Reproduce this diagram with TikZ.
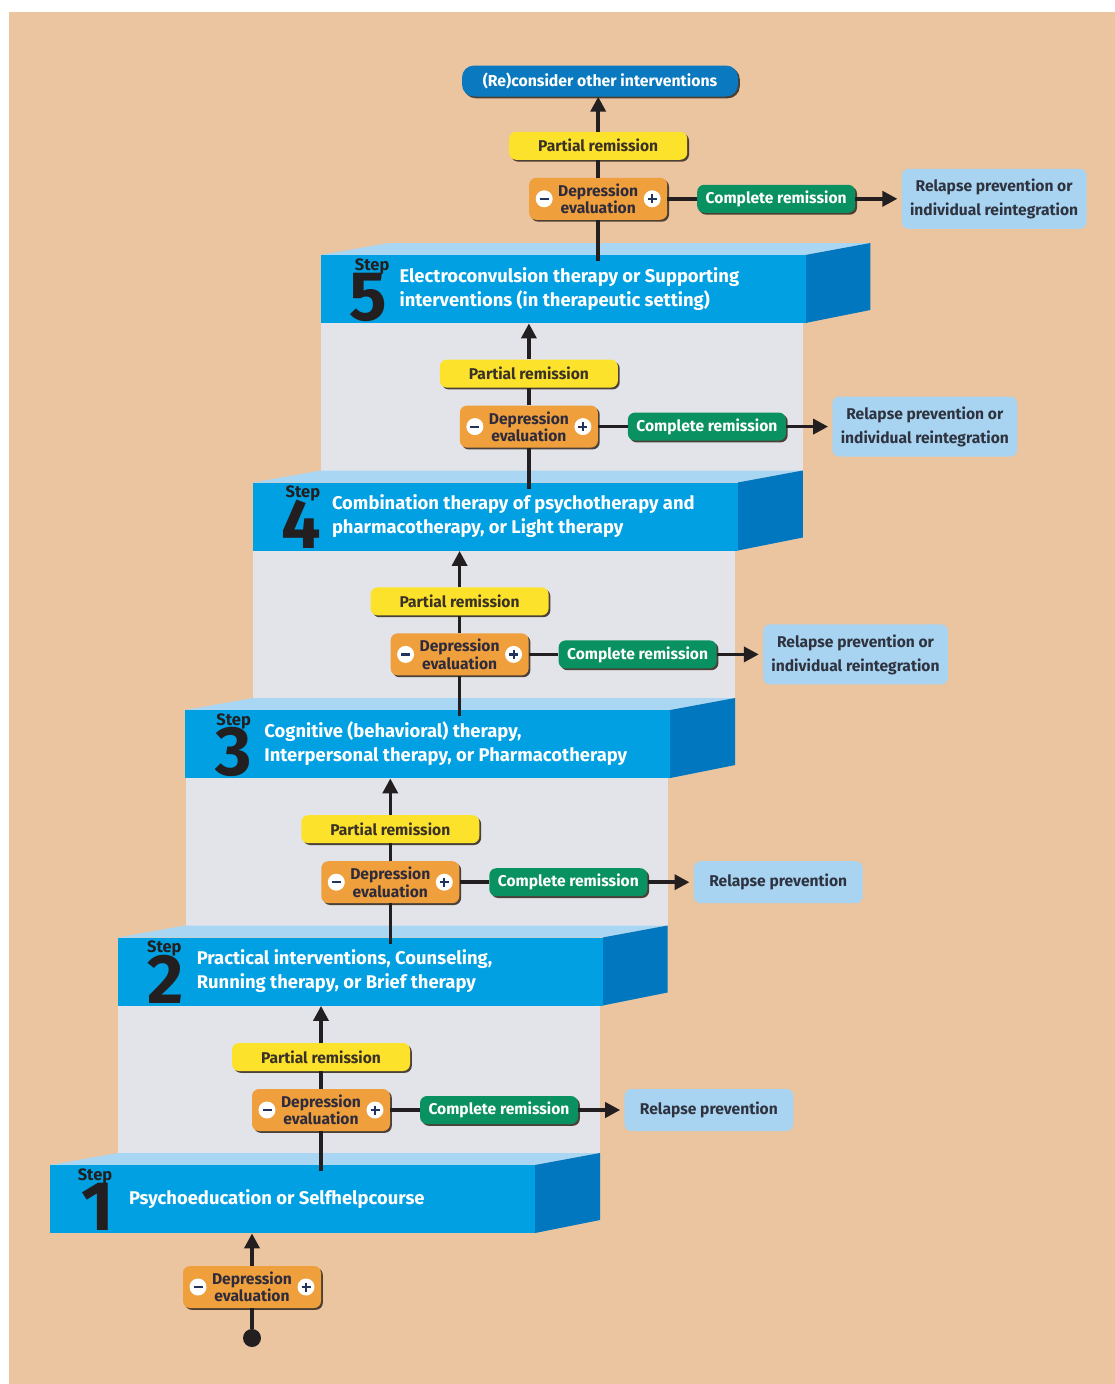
\documentclass[tikz,border=0pt]{standalone}
\usepackage{fontspec}
\setmainfont{Fira Sans}
\usetikzlibrary{arrows.meta,shadows,calc}
\definecolor{peach}{HTML}{EBC4A0}
\definecolor{panel}{HTML}{E3E4E9}
\definecolor{frontc}{HTML}{00A0E2}
\definecolor{sidec}{HTML}{0077BF}
\definecolor{topc}{HTML}{A9D6F3}
\definecolor{yel}{HTML}{FDE22B}
\definecolor{ora}{HTML}{EF9F3B}
\definecolor{grn}{HTML}{0A9161}
\definecolor{rel}{HTML}{A8D4F1}
\definecolor{topbox}{HTML}{0A79BF}
\definecolor{ink}{HTML}{231F20}
\definecolor{shad}{HTML}{3B3026}
\definecolor{ytext}{HTML}{3A3226}
\definecolor{otext}{HTML}{2E2B3C}
\definecolor{rtext}{HTML}{2F3340}
\definecolor{signc}{HTML}{22345E}
\begin{document}
\begin{tikzpicture}[x=1pt,y=-1pt,
 conn/.style={draw=ink,line width=3.6pt},
 arr/.style={conn,-{Triangle[length=15pt,width=15pt]}},
 sbox/.style={rounded corners=7pt,inner sep=0pt,align=center,drop shadow={shadow xshift=1.8pt,shadow yshift=-1.8pt,fill=shad,opacity=0.9}},
 partialbox/.style={sbox,fill=yel,text=ytext,minimum width=178pt,minimum height=28pt,font=\bfseries\fontsize{15.6}{17}\selectfont},
 evalbox/.style={sbox,fill=ora,text=otext,minimum width=138pt,minimum height=42pt,font=\bfseries\fontsize{15.6}{17.5}\selectfont},
 completebox/.style={sbox,fill=grn,text=white,minimum width=158pt,minimum height=28pt,font=\bfseries\fontsize{15.6}{17}\selectfont},
 relbox/.style={rounded corners=7pt,fill=rel,text=rtext,inner sep=0pt,align=center,font=\bfseries\fontsize{15.6}{24}\selectfont},
 topnode/.style={sbox,fill=topbox,text=white,minimum width=276pt,minimum height=31pt,rounded corners=12pt,font=\bfseries\fontsize{15.8}{17}\selectfont},
 front/.style={fill=frontc,minimum width=485pt,minimum height=68pt,inner sep=0pt,anchor=north west},
 steplbl/.style={text=ink,font=\bfseries\fontsize{16.5}{16.5}\selectfont,inner sep=0pt},
 stepnum/.style={text=ink,font=\bfseries\fontsize{70}{70}\selectfont,inner sep=0pt},
 bartext/.style={text=white,anchor=west,align=left,font=\bfseries\fontsize{18.4}{24}\selectfont,inner sep=0pt},
 dotnode/.style={circle,fill=ink,minimum size=18pt,inner sep=0pt},
 pmsigns/.pic={
   \fill[white] (-54,0) circle[radius=8.5pt];
   \fill[white] (54,0) circle[radius=8.5pt];
   \draw[signc,line width=2.2pt] (-58.5,0) -- (-49.5,0) (49.5,0) -- (58.5,0) (54,-4.5) -- (54,4.5);
 }
]
\useasboundingbox (0,0) rectangle (1115,1384);
\fill[white] (0,0) rectangle (1115,1384);
\fill[peach] (9,12) rectangle (1115,1384);
% grey back panels
\foreach \k in {1,...,4}{
  \pgfmathsetmacro\bx{50+(\k-1)*67.6}
  \pgfmathsetmacro\by{1165-(\k-1)*227.5}
  \fill[panel] (\bx+68,\by-12) rectangle (\bx+550,\by-227.5+68);
}
% step bars
\foreach \k/\txt in {1/{Psychoeducation or Selfhelpcourse},
  2/{Practical interventions, Counseling,\\Running therapy, or Brief therapy},
  3/{Cognitive (behavioral) therapy,\\Interpersonal therapy, or Pharmacotherapy},
  4/{Combination therapy of psychotherapy and\\pharmacotherapy, or Light therapy},
  5/{Electroconvulsion therapy or Supporting\\interventions (in therapeutic setting)}}{
  \pgfmathsetmacro\bx{50+(\k-1)*67.6}
  \pgfmathsetmacro\by{1165-(\k-1)*227.5}
  \pgfmathsetmacro\sx{\bx+45+(\k-1)*1.7}
  \fill[topc] (\bx,\by) -- (\bx+485,\by) -- (\bx+550,\by-12) -- (\bx+68,\by-12) -- cycle;
  \fill[sidec] (\bx+485,\by) -- (\bx+550,\by-12) -- (\bx+550,\by+55) -- (\bx+485,\by+68) -- cycle;
  \node[front] (bar\k) at (\bx,\by) {};
  \node[steplbl] (sl\k) at (\sx,\by+11) {Step};
  \node[stepnum] (sn\k) at (\bx+48,\by+42) {\k};
  \node[bartext] (bt\k) at (\bx+79,\by+34) {\txt};
}
% top box
\node[topnode] (top) at (600,81) {(Re)consider other interventions};
% stages
\foreach \k/\w/\h/\t in {1/169/42/{Relapse prevention},
  2/169/42/{Relapse prevention},
  3/185/60/{Relapse prevention or\\individual reintegration},
  4/185/60/{Relapse prevention or\\individual reintegration},
  5/185/60/{Relapse prevention or\\individual reintegration}}{
  \pgfmathsetmacro\cx{321+(\k-1)*69.3}
  \pgfmathsetmacro\cy{1110-(\k-1)*227.8}
  \node[evalbox] (eval\k) at (\cx,\cy) {Depression\\evaluation};
  \pic at (eval\k) {pmsigns};
  \node[partialbox] (part\k) at (\cx,\cy-53) {Partial remission};
  \node[completebox] (comp\k) at (\cx+178,\cy) {Complete remission};
  \node[relbox,minimum width=\w pt,minimum height=\h pt,anchor=west] (rel\k) at ($(comp\k.east)+(46,0)$) {\t};
  \draw[conn] (eval\k.east) -- (comp\k.west);
  \draw[arr,shorten >=4pt] (comp\k.east) -- (rel\k.west);
  \draw[conn] (eval\k.north) -- (part\k.south);
  \draw[conn,shorten >=-6pt] (eval\k.south) -- (eval\k.south |- bar\k.north);
}
\foreach \k in {1,...,4}{
  \pgfmathtruncatemacro\nk{\k+1}
  \draw[arr] (part\k.north) -- (part\k.north |- bar\nk.south);
}
\draw[arr] (part5.north) -- (part5.north |- top.south);
% start
\node[evalbox] (eval0) at (252,1287) {Depression\\evaluation};
\pic at (eval0) {pmsigns};
\node[dotnode] (start) at (252,1338) {};
\draw[conn] (start) -- (eval0.south);
\draw[arr] (eval0.north) -- (eval0.north |- bar1.south);
\end{tikzpicture}
\end{document}
